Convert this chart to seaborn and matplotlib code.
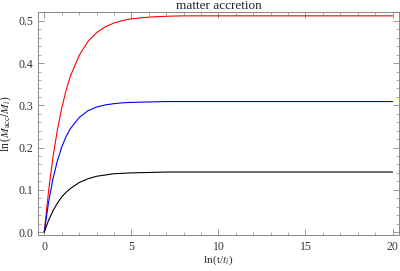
import pandas as pd
import matplotlib
matplotlib.use('Agg')
import matplotlib.pyplot as plt
import seaborn as sns
from matplotlib.ticker import MultipleLocator

# valores
x = [0, 0.25, 0.5, 0.75, 1, 1.25, 1.5, 2, 2.5, 3, 3.5, 4, 4.5, 5, 6, 7, 8, 10, 20]
y_red = [0.0, 0.098, 0.177, 0.241, 0.293, 0.335, 0.369, 0.418, 0.451, 0.472,
         0.486, 0.495, 0.501, 0.505, 0.509, 0.511, 0.512, 0.512, 0.512]
y_blue = [0.0, 0.071, 0.126, 0.168, 0.201, 0.226, 0.245, 0.271, 0.287, 0.296,
          0.301, 0.304, 0.306, 0.307, 0.308, 0.309, 0.309, 0.309, 0.309]
y_black = [0.0, 0.028, 0.050, 0.068, 0.083, 0.094, 0.103, 0.117, 0.126, 0.132,
           0.135, 0.138, 0.139, 0.140, 0.141, 0.142, 0.142, 0.142, 0.142]

df = pd.DataFrame({'x': x * 3,
                   'y': y_red + y_blue + y_black,
                   'curva': ['r'] * len(x) + ['b'] * len(x) + ['k'] * len(x)})

sns.set_style('ticks')
plt.rcParams['font.family'] = ['Liberation Serif', 'DejaVu Serif']
plt.rcParams['mathtext.fontset'] = 'stix'

fig = plt.figure(figsize=(4, 2.71), dpi=100)
ax = fig.add_axes([0.095, 0.133, 0.9025, 0.821])

sns.lineplot(data=df, x='x', y='y', hue='curva',
             palette={'r': 'red', 'b': 'blue', 'k': 'black'},
             linewidth=0.8, legend=False, ax=ax)

ax.set_xlim(-0.36, 20.37)
ax.set_ylim(-0.007, 0.52)
ax.xaxis.set_major_locator(MultipleLocator(5))
ax.xaxis.set_minor_locator(MultipleLocator(1))
ax.yaxis.set_major_locator(MultipleLocator(0.1))
ax.yaxis.set_minor_locator(MultipleLocator(0.02))
ax.tick_params(which='both', direction='in', top=True, right=True,
               color='#888888', labelsize=8.5, labelcolor='#333333')
ax.tick_params(which='major', length=4, width=0.6)
ax.tick_params(which='minor', length=2, width=0.5)
ax.tick_params(axis='x', pad=4)
for s in ax.spines.values():
    s.set_color('#888888')
    s.set_linewidth(0.7)

ax.set_title('matter accretion', fontsize=9.5, pad=1)
ax.set_xlabel('ln$\\,$(t/$t_i$)', fontsize=8, labelpad=1)
ax.set_ylabel('ln$\\,$($M_{\\rm acc}/M_i$)', fontsize=8.5, labelpad=3)

plt.savefig('out.png', dpi=100)
